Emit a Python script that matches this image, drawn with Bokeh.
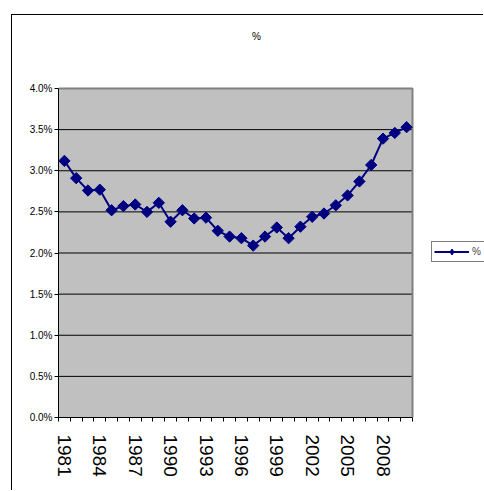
from bokeh.plotting import figure
from bokeh.models import (ColumnDataSource, FixedTicker, NumeralTickFormatter, Range1d,
                          Legend, LegendItem, Label)
from bokeh.embed import file_html
from bokeh.resources import INLINE

years = list(range(1981, 2011))
values_pct = [3.12, 2.91, 2.76, 2.77, 2.52, 2.57, 2.59, 2.50, 2.61, 2.38,
              2.52, 2.42, 2.43, 2.27, 2.20, 2.18, 2.09, 2.20, 2.31, 2.18,
              2.32, 2.44, 2.48, 2.58, 2.70, 2.87, 3.07, 3.39, 3.46, 3.53]
year_labels = [1981, 1984, 1987, 1990, 1993, 1996, 1999, 2002, 2005, 2008]
y_ticks = [0.0, 0.005, 0.01, 0.015, 0.02, 0.025, 0.03, 0.035, 0.04]
series_name = "%"
title_text = "%"

FONT = "Liberation Sans"
NAVY = "#000080"

x_lo, x_hi = years[0] - 0.5, years[-1] + 0.5
y_lo, y_hi = y_ticks[0], y_ticks[-1]

# frame spans the whole canvas right/top of the axes; the grey plot area is a sub-box
frame_left, frame_right, frame_top, frame_bottom = 58, 484, 15, 417
area_right, area_top = 412, 88
x_end = x_hi + (x_hi - x_lo) * (frame_right - area_right) / (area_right - frame_left)
y_end = y_hi * (frame_bottom - frame_top) / (frame_bottom - area_top)

src = ColumnDataSource(dict(x=years, y=[v / 100 for v in values_pct]))

p = figure(width=472, height=476, output_backend="svg", toolbar_location=None,
           x_range=Range1d(x_lo, x_end), y_range=Range1d(y_lo, y_end),
           min_border_left=46, min_border_right=0, min_border_top=0, min_border_bottom=74)
p.styles = {"border-left": "1px solid black", "border-top": "1px solid black",
            "margin-left": "11px", "margin-top": "14px"}
p.background_fill_color = "white"
p.border_fill_color = "white"
p.outline_line_color = None

# grey plot area, grid lines and its border
p.quad(left=x_lo, right=x_hi, bottom=y_lo, top=y_hi, fill_color="#C0C0C0", line_color=None)
p.segment(x0=[x_lo] * (len(y_ticks) - 2), x1=[x_hi] * (len(y_ticks) - 2),
          y0=y_ticks[1:-1], y1=y_ticks[1:-1], line_color="black", line_width=1)
p.line(x=[x_lo, x_hi, x_hi], y=[y_hi, y_hi, y_lo], line_color="#808080", line_width=2)

# axes
p.xaxis.bounds = (x_lo, x_hi)
p.xaxis.ticker = FixedTicker(ticks=year_labels,
                             minor_ticks=[x_lo + i for i in range(len(years) + 1)])
p.xaxis.major_tick_out = 0
p.xaxis.major_tick_in = 0
p.xaxis.minor_tick_out = 4
p.xaxis.minor_tick_in = 0
p.xaxis.minor_tick_line_color = "black"
p.xaxis.axis_line_color = "black"
p.xaxis.major_label_orientation = "vertical"
p.xaxis.major_label_text_font = FONT
p.xaxis.major_label_text_font_size = "19px"
p.xaxis.major_label_text_color = "black"
p.xaxis.major_label_standoff = 13

p.yaxis.bounds = (y_lo, y_hi)
p.yaxis.ticker = FixedTicker(ticks=y_ticks)
p.yaxis.formatter = NumeralTickFormatter(format="0.0%")
p.yaxis.major_tick_out = 4
p.yaxis.major_tick_in = 0
p.yaxis.minor_tick_line_color = None
p.yaxis.axis_line_color = "black"
p.yaxis.major_label_text_font = FONT
p.yaxis.major_label_text_font_size = "10px"
p.yaxis.major_label_text_color = "black"
p.yaxis.major_label_standoff = 2

p.xgrid.grid_line_color = None
p.ygrid.grid_line_color = None

line = p.line("x", "y", source=src, line_color=NAVY, line_width=2)
pts = p.scatter("x", "y", source=src, marker="square", angle=0.785398, size=8,
                fill_color=NAVY, line_color=NAVY)
# legend swatch marker (legend markers ignore angle, so use a diamond for the key);
# it has a single NaN point so nothing is drawn in the plot itself
key = p.scatter(x=years[:1], y=[float("nan")], marker="diamond",
                fill_color=NAVY, line_color=NAVY)

legend = Legend(items=[LegendItem(label=series_name, renderers=[line, key])],
                location=(431 - frame_left, frame_bottom - 262), glyph_width=35, glyph_height=15,
                label_text_font=FONT, label_text_font_size="10px",
                border_line_color="black", border_line_width=1,
                background_fill_color="white", background_fill_alpha=1,
                padding=2, margin=0, label_standoff=3, spacing=0)
p.add_layout(legend)

title = Label(x=256 - frame_left, y=frame_bottom - 36, x_units="screen", y_units="screen",
              text=title_text, text_font=FONT, text_font_size="10px", text_align="center",
              text_baseline="middle", text_color="black")
p.add_layout(title)

open("out.html", "w").write(file_html(p, INLINE))
